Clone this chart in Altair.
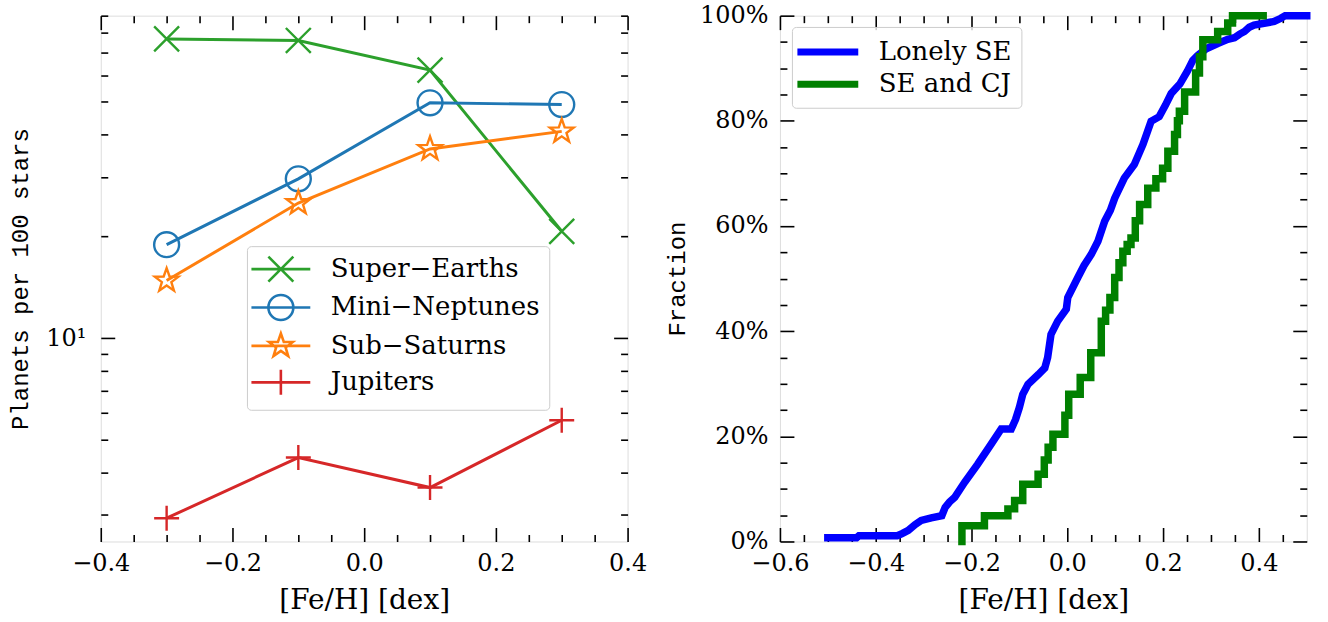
import math
import altair as alt
import pandas as pd

# ---------------- data ----------------
feh_bins = [-0.3, -0.1, 0.1, 0.3]
series_names = ["Super−Earths", "Mini−Neptunes", "Sub−Saturns", "Jupiters"]
series_colors = ["#2ca02c", "#1f77b4", "#ff7f0e", "#d62728"]
super_earths = [76.8, 76.0, 62.1, 20.7]
mini_neptunes = [18.9, 29.6, 49.7, 49.1]
sub_saturns = [14.8, 25.1, 36.3, 40.9]
jupiters = [2.93, 4.43, 3.61, 5.71]

lonely_feh = [-0.50, -0.44, -0.435, -0.355, -0.345, -0.332, -0.318, -0.305, -0.284, -0.262,
              -0.255, -0.246, -0.235, -0.214, -0.187, -0.159, -0.138, -0.117, -0.108, -0.100,
              -0.093, -0.082, -0.060, -0.047, -0.041, -0.034, -0.020, -0.002, 0.001, 0.022,
              0.035, 0.050, 0.064, 0.078, 0.090, 0.099, 0.119, 0.140, 0.158, 0.175,
              0.192, 0.205, 0.217, 0.235, 0.251, 0.262, 0.272, 0.290, 0.314, 0.335,
              0.349, 0.360, 0.370, 0.380, 0.390, 0.432, 0.446, 0.455, 0.50]
lonely_frac = [0.007, 0.007, 0.011, 0.011, 0.015, 0.021, 0.032, 0.040, 0.045, 0.049,
               0.065, 0.075, 0.084, 0.113, 0.147, 0.185, 0.214, 0.214, 0.232, 0.255,
               0.280, 0.299, 0.318, 0.330, 0.350, 0.394, 0.419, 0.442, 0.464, 0.502,
               0.525, 0.546, 0.571, 0.609, 0.630, 0.653, 0.691, 0.717, 0.755, 0.799,
               0.808, 0.830, 0.852, 0.870, 0.895, 0.915, 0.924, 0.937, 0.947, 0.955,
               0.958, 0.965, 0.970, 0.978, 0.982, 0.989, 0.995, 1.0, 1.0]

secj_feh = [-0.220, -0.220, -0.173, -0.124, -0.110, -0.093, -0.061, -0.048, -0.040, -0.030,
            -0.005, 0.003, 0.027, 0.049, 0.071, 0.080, 0.089, 0.099, 0.108, 0.116,
            0.125, 0.133, 0.142, 0.151, 0.168, 0.185, 0.199, 0.210, 0.224, 0.230,
            0.234, 0.245, 0.268, 0.276, 0.283, 0.290, 0.314, 0.335, 0.345, 0.409]
secj_frac = [0.0, 0.030, 0.049, 0.062, 0.078, 0.109, 0.128, 0.155, 0.179, 0.204,
             0.240, 0.280, 0.312, 0.359, 0.419, 0.440, 0.464, 0.502, 0.530, 0.552,
             0.565, 0.577, 0.610, 0.641, 0.672, 0.690, 0.710, 0.742, 0.774, 0.800,
             0.818, 0.855, 0.891, 0.922, 0.954, 0.954, 0.970, 0.986, 1.0, 1.0]

left_x_major = [-0.4, -0.2, 0.0, 0.2, 0.4]
left_x_minor = [-0.35, -0.3, -0.25, -0.15, -0.1, -0.05, 0.05, 0.1, 0.15, 0.25, 0.3, 0.35]
left_y_major = [10]
left_y_minor = [3, 4, 5, 6, 7, 8, 9, 20, 30, 40, 50, 60, 70, 80, 90]
right_x_major = [-0.6, -0.4, -0.2, 0.0, 0.2, 0.4]
right_x_minor = [-0.55, -0.5, -0.45, -0.35, -0.3, -0.25, -0.15, -0.1, -0.05,
                 0.05, 0.1, 0.15, 0.25, 0.3, 0.35, 0.45]
right_y_major = [0.0, 0.2, 0.4, 0.6, 0.8, 1.0]
right_y_minor = [0.05, 0.1, 0.15, 0.25, 0.3, 0.35, 0.45, 0.5, 0.55, 0.65, 0.7, 0.75, 0.85, 0.9, 0.95]

cdf_names = ["Lonely SE", "SE and CJ"]
cdf_colors = ["#0000ff", "#008000"]

# ---------------- tables ----------------
rows = []
for name, vals in zip(series_names, [super_earths, mini_neptunes, sub_saturns, jupiters]):
    for f, v in zip(feh_bins, vals):
        rows.append({"series": name, "feh": f, "rate": v})
df_left = pd.DataFrame(rows)
df_blue = pd.DataFrame({"feh": lonely_feh, "frac": lonely_frac, "sample": cdf_names[0]})
df_green = pd.DataFrame({"feh": secj_feh, "frac": secj_frac, "sample": cdf_names[1]})

# ---------------- marker shapes ----------------
def star_path(inner=0.40):
    pts = []
    for k in range(10):
        r = 1.0 if k % 2 == 0 else inner
        ang = math.pi / 2 + k * math.pi / 5
        pts.append((r * math.cos(ang), -r * math.sin(ang)))
    return "M" + "L".join(f"{x:.3f},{y:.3f}" for x, y in pts) + "Z"

P_X = "M-1,-1L1,1M-1,1L1,-1"
P_O = "M1,0A1,1,0,1,1,-1,0A1,1,0,1,1,1,0Z"
P_STAR = star_path()
P_PLUS = "M-1,0L1,0M0,-1L0,1"
markers = [P_X, P_O, P_STAR, P_PLUS]
LEG_LINE = "M-2.36,0L2.36,0"
legend_paths = [LEG_LINE + p for p in markers]

W, H = 528, 527
SERIF = "DejaVu Serif"
MONO = "Liberation Mono"
LAB = 24
LEGF = 26

def tick_axis(orient, values, size):
    return alt.Axis(orient=orient, values=values, labels=False, ticks=True,
                    tickSize={"expr": str(-size)}, tickWidth=1.6, tickColor="black",
                    domain=False, grid=False, title=None)

def label_axis_x(values, fmt_expr, title):
    return alt.Axis(orient="bottom", values=values, ticks=False, tickSize=0, domain=False, grid=False,
                    labelExpr=fmt_expr, labelFont=SERIF, labelFontSize=LAB, labelColor="black",
                    labelBaseline="alphabetic", labelPadding=29, labelFlush=False,
                    title=title, titleFont=SERIF, titleFontSize=28, titleFontWeight="normal",
                    titleColor="black", titleBaseline="alphabetic", titleY=67)

def label_axis_y(values, fmt_expr, title, pad, tx):
    return alt.Axis(orient="left", values=values, ticks=False, tickSize=0, domain=False, grid=False,
                    labelExpr=fmt_expr, labelFont=SERIF, labelFontSize=LAB, labelColor="black",
                    labelPadding=pad, labelFlush=False,
                    title=title, titleFont=MONO, titleFontSize=24, titleFontWeight="normal",
                    titleColor="black", titleBaseline="alphabetic", titleX=tx, titleAngle=270)

# ---------------- left panel ----------------
xs_l = alt.Scale(domain=[-0.4, 0.4], nice=False, zero=False)
ys_l = alt.Scale(type="log", domain=[2.5, 90], nice=False)

def lx(axis):
    return alt.X("feh:Q", scale=xs_l, axis=axis)

def ly(axis):
    return alt.Y("rate:Q", scale=ys_l, axis=axis)

l_lines = alt.Chart(df_left).mark_line(strokeWidth=3).encode(
    x=lx(label_axis_x(left_x_major, "format(datum.value, '.1f')", "[Fe/H] [dex]")),
    y=ly(label_axis_y(left_y_major, "'10¹'", "Planets per 100 stars", 15, -73)),
    stroke=alt.Stroke("series:N", scale=alt.Scale(domain=series_names, range=series_colors), legend=None),
)

l_points = alt.Chart(df_left).mark_point(filled=False, size=625, strokeWidth=2.4, opacity=1).encode(
    x=lx(tick_axis("bottom", left_x_major, 14)),
    y=ly(tick_axis("left", left_y_major, 14)),
    color=alt.Color("series:N", scale=alt.Scale(domain=series_names, range=series_colors), legend=None),
    shape=alt.Shape("series:N", scale=alt.Scale(domain=series_names, range=markers), legend=None),
)

left_legend = alt.Legend(orient="none", legendX=146.5, legendY=231, title=None,
                         labelFont=SERIF, labelFontSize=LEGF, labelColor="black", labelLimit=500,
                         symbolSize=625, symbolStrokeWidth=2.6, symbolOffset=11, symbolOpacity=1,
                         labelOffset=36, rowPadding=2.5, padding=9,
                         fillColor="rgba(255,255,255,0.8)", strokeColor="#cccccc", cornerRadius=4)

l_legend_layer = alt.Chart(df_left).mark_point(filled=False, opacity=0).encode(
    x=lx(tick_axis("bottom", left_x_minor, 7)),
    y=ly(tick_axis("left", left_y_minor, 7)),
    color=alt.Color("series:N", scale=alt.Scale(domain=series_names, range=series_colors), legend=left_legend),
    shape=alt.Shape("series:N", scale=alt.Scale(domain=series_names, range=legend_paths), legend=left_legend),
)

def dummy(df, xf, yf, xaxis, yaxis):
    return alt.Chart(df).mark_point(opacity=0).encode(x=xf(xaxis), y=yf(yaxis))

left = alt.layer(
    l_lines, l_points, l_legend_layer,
    dummy(df_left, lx, ly, tick_axis("top", left_x_major, 14), tick_axis("right", left_y_major, 14)),
    dummy(df_left, lx, ly, tick_axis("top", left_x_minor, 7), tick_axis("right", left_y_minor, 7)),
).resolve_scale(color="independent", shape="independent").properties(width=W, height=H)

# ---------------- right panel ----------------
xs_r = alt.Scale(domain=[-0.6, 0.5], nice=False, zero=False)
ys_r = alt.Scale(domain=[0, 1], nice=False, zero=False)

def rx(axis):
    return alt.X("feh:Q", scale=xs_r, axis=axis)

def ry(axis):
    return alt.Y("frac:Q", scale=ys_r, axis=axis)

cdf_legend = alt.Legend(orient="none", legendX=692.7, legendY=11.3, title=None,
                        labelFont=SERIF, labelFontSize=LEGF, labelColor="black", labelLimit=500,
                        symbolType="M-2.44,0L2.44,0", symbolSize=625, symbolStrokeWidth=7,
                        symbolOffset=11, labelOffset=35, rowPadding=2.5, padding=9,
                        fillColor="rgba(255,255,255,0.8)", strokeColor="#cccccc", cornerRadius=4)
cdf_color = alt.Color("sample:N", scale=alt.Scale(domain=cdf_names, range=cdf_colors), legend=cdf_legend)

r_blue = alt.Chart(df_blue).mark_line(strokeWidth=7.5, strokeCap="square").encode(
    x=rx(label_axis_x(right_x_major, "format(datum.value, '.1f')", "[Fe/H] [dex]")),
    y=ry(label_axis_y(right_y_major, "format(datum.value, '.0%')", "Fraction", 12, -96)),
    color=cdf_color,
)
r_green = alt.Chart(df_green).mark_line(strokeWidth=7.5, strokeCap="square", interpolate="step-after").encode(
    x=rx(tick_axis("bottom", right_x_major, 14)),
    y=ry(tick_axis("left", right_y_major, 14)),
    color=cdf_color,
)
right = alt.layer(
    r_blue, r_green,
    dummy(df_blue, rx, ry, tick_axis("bottom", right_x_minor, 7), tick_axis("left", right_y_minor, 7)),
    dummy(df_blue, rx, ry, tick_axis("top", right_x_major, 14), tick_axis("right", right_y_major, 14)),
    dummy(df_blue, rx, ry, tick_axis("top", right_x_minor, 7), tick_axis("right", right_y_minor, 7)),
).properties(width=W, height=H)

chart = alt.hconcat(left, right, spacing=152.7, bounds="flush").properties(
    padding={"left": 8, "top": -1, "right": 5, "bottom": 5}
).configure_view(stroke="black", strokeWidth=2).configure(background="white")

chart.save("out.html", embed_options={"renderer": "svg", "actions": False})
